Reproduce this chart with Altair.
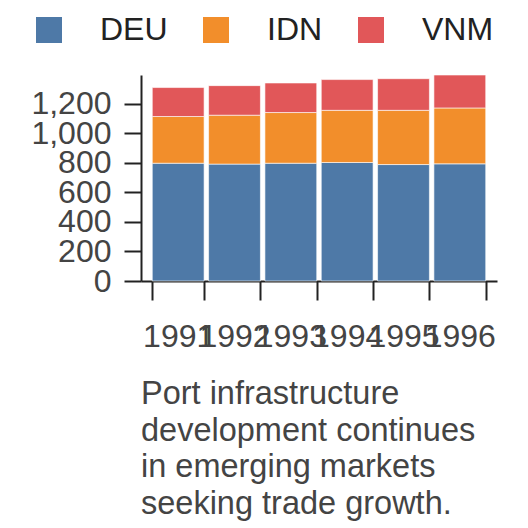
import altair as alt
import pandas as pd

years = ["1991", "1992", "1993", "1994", "1995", "1996"]
countries = ["DEU", "IDN", "VNM"]
deu = [797, 791, 797, 802, 788, 793]
idn = [316, 331, 343, 353, 367, 378]
vnm = [196, 200, 200, 208, 214, 223]
colors = ["#4e79a7", "#f28e2b", "#e15759"]
caption = ["Port infrastructure", "development continues", "in emerging markets", "seeking trade growth."]

rows = []
for series, name in zip([deu, idn, vnm], countries):
    for y, v in zip(years, series):
        rows.append({"year": y, "country": name, "value": v, "rank": countries.index(name)})
df = pd.DataFrame(rows)

FONT = "Liberation Sans"

chart = alt.Chart(df).mark_bar(stroke="white", strokeWidth=1, strokeOpacity=0.6).encode(
    x=alt.X("year:O", sort=years,
            scale=alt.Scale(paddingInner=0.08, paddingOuter=0.2),
            axis=alt.Axis(title=None, labelAngle=0, tickBand="extent", tickSize=19,
                          tickWidth=2, domainWidth=2, domainColor="#222", tickColor="#222",
                          labelFontSize=32, labelColor="#444", labelPadding=21, labelFont=FONT,
                          labelOverlap=False)),
    y=alt.Y("value:Q", stack="zero",
            scale=alt.Scale(nice=False),
            axis=alt.Axis(title=None, values=[0, 200, 400, 600, 800, 1000, 1200], format=",d",
                          tickSize=17, tickWidth=2, domainWidth=2, domainColor="#222",
                          tickColor="#222", labelFontSize=32, labelColor="#444",
                          labelPadding=13, labelFont=FONT, grid=False, labelOverlap=False)),
    color=alt.Color("country:N", sort=countries,
                    scale=alt.Scale(domain=countries, range=colors),
                    legend=alt.Legend(title=None, orient="none", direction="horizontal",
                                      legendX=-108, legendY=-61, symbolType="square",
                                      symbolSize=676, symbolStrokeWidth=0, symbolOpacity=1,
                                      labelFontSize=32, labelFont=FONT, labelColor="#222",
                                      labelOffset=35, columnPadding=32)),
    order=alt.Order("rank:Q", sort="ascending"),
).properties(
    width=356,
    height=206,
    title=alt.TitleParams(text=caption, orient="bottom", anchor="start", frame="group",
                          fontSize=32.5, fontWeight="normal", color="#444", font=FONT,
                          lineHeight=36.5, offset=26),
    autosize=alt.AutoSizeParams(type="none"),
    padding={"left": 133, "top": 67, "right": 23, "bottom": 245},
).configure_view(stroke=None)

chart.save("out.html", embed_options={"renderer": "svg", "actions": False})
